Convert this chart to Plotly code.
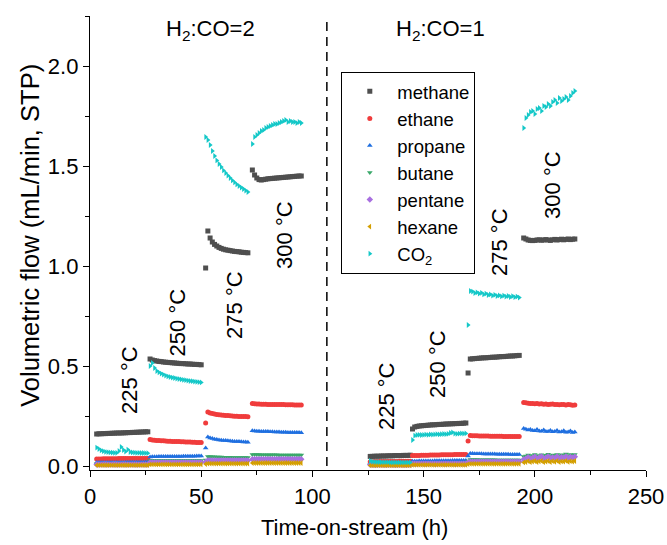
import plotly.graph_objects as go

# Time-on-stream (h); runs: H2:CO=2 at 225/250/275/300 °C, then H2:CO=1 at 225/250/275/300 °C
t = [
    3, 4, 5, 6, 7, 8, 9, 10, 11, 12, 13, 14, 15, 16, 17, 18, 19, 20, 21, 22, 23, 24, 25, 26,
    27, 28, 29, 30, 31, 32, 33, 34, 35, 36, 37, 38, 39, 40, 41, 42, 43, 44, 45, 46, 47, 48, 49, 50,
    52, 53, 54, 55, 56, 57, 58, 59, 60, 61, 62, 63, 64, 65, 66, 67, 68, 69, 70, 71,
    73, 74, 75, 76, 77, 78, 79, 80, 81, 82, 83, 84, 85, 86, 87, 88, 89, 90, 91, 92, 93, 94, 95,
    126, 127, 128, 129, 130, 131, 132, 133, 134, 135, 136, 137, 138, 139, 140, 141, 142, 143, 144,
    145, 146, 147, 148, 149, 150, 151, 152, 153, 154, 155, 156, 157, 158, 159, 160, 161, 162, 163, 164, 165, 166, 167, 168, 169,
    170, 171, 172, 173, 174, 175, 176, 177, 178, 179, 180, 181, 182, 183, 184, 185, 186, 187, 188, 189, 190, 191, 192, 193,
    195, 196, 197, 198, 199, 200, 201, 202, 203, 204, 205, 206, 207, 208, 209, 210, 211, 212, 213, 214, 215, 216, 217, 218,
]

# Volumetric flows (mL/min, STP)
methane = [
    0.160, 0.161, 0.161, 0.162, 0.162, 0.163, 0.163, 0.164, 0.164, 0.165, 0.165, 0.165, 0.166, 0.166, 0.167, 0.167, 0.168, 0.168, 0.169, 0.169, 0.170, 0.170, 0.171, 0.171,
    0.535, 0.530, 0.527, 0.525, 0.523, 0.522, 0.520, 0.519, 0.518, 0.517, 0.516, 0.515, 0.514, 0.513, 0.512, 0.512, 0.511, 0.510, 0.510, 0.509, 0.508, 0.508, 0.507, 0.506,
    0.990, 1.175, 1.140, 1.120, 1.108, 1.100, 1.093, 1.088, 1.084, 1.081, 1.079, 1.077, 1.075, 1.073, 1.072, 1.071, 1.069, 1.068, 1.067, 1.066,
    1.480, 1.455, 1.440, 1.432, 1.430, 1.432, 1.434, 1.436, 1.437, 1.438, 1.439, 1.440, 1.441, 1.442, 1.443, 1.444, 1.445, 1.446, 1.447, 1.448, 1.449, 1.450, 1.450,
    0.048, 0.048, 0.049, 0.049, 0.049, 0.050, 0.050, 0.050, 0.051, 0.051, 0.051, 0.052, 0.052, 0.052, 0.052, 0.053, 0.053, 0.053, 0.054,
    0.185, 0.195, 0.198, 0.200, 0.201, 0.202, 0.203, 0.204, 0.205, 0.206, 0.206, 0.207, 0.208, 0.208, 0.209, 0.210, 0.210, 0.211, 0.211, 0.212, 0.212, 0.213, 0.213, 0.214, 0.215,
    0.465, 0.535, 0.536, 0.537, 0.538, 0.539, 0.540, 0.541, 0.541, 0.542, 0.543, 0.544, 0.544, 0.545, 0.546, 0.547, 0.547, 0.548, 0.549, 0.550, 0.550, 0.551, 0.552, 0.553,
    1.140, 1.135, 1.130, 1.128, 1.127, 1.128, 1.130, 1.131, 1.129, 1.130, 1.132, 1.130, 1.128, 1.131, 1.133, 1.130, 1.132, 1.134, 1.131, 1.133, 1.135, 1.132, 1.134, 1.135,
]

ethane = [
    0.035, 0.035, 0.035, 0.036, 0.036, 0.036, 0.036, 0.036, 0.036, 0.036, 0.037, 0.037, 0.037, 0.037, 0.037, 0.037, 0.037, 0.037, 0.038, 0.038, 0.038, 0.038, 0.038, 0.038,
    0.132, 0.130, 0.129, 0.128, 0.127, 0.126, 0.126, 0.125, 0.124, 0.124, 0.123, 0.123, 0.122, 0.122, 0.121, 0.121, 0.120, 0.120, 0.120, 0.119, 0.119, 0.118, 0.118, 0.118,
    0.215, 0.270, 0.265, 0.262, 0.260, 0.258, 0.256, 0.255, 0.254, 0.253, 0.252, 0.251, 0.250, 0.249, 0.249, 0.248, 0.248, 0.247, 0.247, 0.246,
    0.312, 0.311, 0.310, 0.310, 0.309, 0.309, 0.309, 0.308, 0.308, 0.308, 0.308, 0.307, 0.307, 0.307, 0.307, 0.306, 0.306, 0.306, 0.306, 0.305, 0.305, 0.305, 0.305,
    0.021, 0.021, 0.022, 0.022, 0.022, 0.022, 0.022, 0.023, 0.023, 0.023, 0.023, 0.023, 0.023, 0.024, 0.024, 0.024, 0.024, 0.024, 0.024,
    0.052, 0.053, 0.053, 0.053, 0.054, 0.054, 0.054, 0.054, 0.055, 0.055, 0.055, 0.055, 0.055, 0.056, 0.056, 0.056, 0.056, 0.056, 0.056, 0.057, 0.057, 0.057, 0.057, 0.057, 0.057,
    0.125, 0.152, 0.151, 0.151, 0.151, 0.150, 0.150, 0.150, 0.150, 0.150, 0.149, 0.149, 0.149, 0.149, 0.149, 0.149, 0.148, 0.148, 0.148, 0.148, 0.148, 0.148, 0.148, 0.147,
    0.318, 0.316, 0.314, 0.313, 0.312, 0.311, 0.312, 0.310, 0.311, 0.309, 0.310, 0.308, 0.309, 0.310, 0.307, 0.308, 0.306, 0.308, 0.307, 0.305, 0.307, 0.306, 0.304, 0.305,
]

propane = [
    0.017, 0.017, 0.017, 0.017, 0.018, 0.018, 0.018, 0.018, 0.018, 0.018, 0.018, 0.018, 0.018, 0.019, 0.019, 0.019, 0.019, 0.019, 0.019, 0.019, 0.019, 0.019, 0.020, 0.020,
    0.045, 0.046, 0.046, 0.046, 0.047, 0.047, 0.047, 0.047, 0.047, 0.048, 0.048, 0.048, 0.048, 0.048, 0.048, 0.049, 0.049, 0.049, 0.049, 0.049, 0.049, 0.050, 0.050, 0.050,
    0.090, 0.145, 0.140, 0.137, 0.134, 0.132, 0.130, 0.129, 0.128, 0.127, 0.126, 0.125, 0.124, 0.123, 0.122, 0.122, 0.121, 0.120, 0.120, 0.119,
    0.176, 0.175, 0.174, 0.174, 0.173, 0.173, 0.172, 0.172, 0.171, 0.171, 0.170, 0.170, 0.170, 0.169, 0.169, 0.169, 0.168, 0.168, 0.168, 0.167, 0.167, 0.167, 0.166,
    0.011, 0.011, 0.011, 0.012, 0.012, 0.012, 0.012, 0.012, 0.012, 0.012, 0.012, 0.013, 0.013, 0.013, 0.013, 0.013, 0.013, 0.013, 0.013,
    0.024, 0.024, 0.024, 0.025, 0.025, 0.025, 0.025, 0.025, 0.025, 0.025, 0.026, 0.026, 0.026, 0.026, 0.026, 0.026, 0.026, 0.026, 0.027, 0.027, 0.027, 0.027, 0.027, 0.027, 0.027,
    0.050, 0.062, 0.062, 0.061, 0.061, 0.061, 0.061, 0.060, 0.060, 0.060, 0.060, 0.060, 0.060, 0.059, 0.059, 0.059, 0.059, 0.059, 0.059, 0.058, 0.058, 0.058, 0.058, 0.058,
    0.188, 0.184, 0.180, 0.182, 0.178, 0.176, 0.182, 0.175, 0.174, 0.180, 0.173, 0.172, 0.178, 0.171, 0.172, 0.177, 0.170, 0.171, 0.176, 0.169, 0.170, 0.175, 0.168, 0.170,
]

butane = [
    0.011, 0.011, 0.011, 0.011, 0.011, 0.011, 0.011, 0.011, 0.011, 0.011, 0.011, 0.011, 0.012, 0.012, 0.012, 0.012, 0.012, 0.012, 0.012, 0.012, 0.012, 0.012, 0.012, 0.012,
    0.027, 0.027, 0.027, 0.027, 0.027, 0.027, 0.027, 0.027, 0.027, 0.027, 0.027, 0.027, 0.028, 0.028, 0.028, 0.028, 0.028, 0.028, 0.028, 0.028, 0.028, 0.028, 0.028, 0.028,
    0.030, 0.048, 0.047, 0.046, 0.046, 0.045, 0.045, 0.045, 0.044, 0.044, 0.044, 0.044, 0.043, 0.043, 0.043, 0.043, 0.043, 0.042, 0.042, 0.042,
    0.057, 0.057, 0.057, 0.057, 0.056, 0.056, 0.056, 0.056, 0.056, 0.056, 0.056, 0.056, 0.055, 0.055, 0.055, 0.055, 0.055, 0.055, 0.055, 0.055, 0.055, 0.055, 0.055,
    0.008, 0.008, 0.008, 0.008, 0.008, 0.008, 0.008, 0.008, 0.008, 0.008, 0.008, 0.008, 0.008, 0.008, 0.008, 0.008, 0.008, 0.008, 0.008,
    0.015, 0.015, 0.015, 0.015, 0.015, 0.015, 0.015, 0.015, 0.015, 0.015, 0.015, 0.015, 0.015, 0.015, 0.015, 0.015, 0.015, 0.015, 0.015, 0.015, 0.015, 0.015, 0.015, 0.015, 0.015,
    0.025, 0.032, 0.032, 0.032, 0.032, 0.031, 0.031, 0.031, 0.031, 0.031, 0.031, 0.031, 0.031, 0.030, 0.030, 0.030, 0.030, 0.030, 0.030, 0.030, 0.030, 0.030, 0.030, 0.030,
    0.048, 0.050, 0.055, 0.047, 0.052, 0.058, 0.049, 0.053, 0.056, 0.048, 0.054, 0.059, 0.050, 0.055, 0.052, 0.058, 0.050, 0.056, 0.053, 0.060, 0.051, 0.057, 0.054, 0.058,
]

pentane = [
    0.007, 0.007, 0.007, 0.007, 0.007, 0.007, 0.007, 0.007, 0.007, 0.007, 0.007, 0.007, 0.007, 0.007, 0.007, 0.007, 0.007, 0.007, 0.007, 0.007, 0.007, 0.007, 0.007, 0.007,
    0.017, 0.017, 0.017, 0.017, 0.017, 0.017, 0.017, 0.017, 0.017, 0.017, 0.017, 0.017, 0.017, 0.017, 0.017, 0.017, 0.017, 0.017, 0.017, 0.017, 0.017, 0.017, 0.017, 0.017,
    0.020, 0.027, 0.027, 0.027, 0.027, 0.027, 0.027, 0.027, 0.027, 0.027, 0.027, 0.027, 0.027, 0.027, 0.027, 0.027, 0.027, 0.027, 0.027, 0.027,
    0.034, 0.034, 0.034, 0.034, 0.034, 0.034, 0.034, 0.034, 0.034, 0.034, 0.034, 0.034, 0.034, 0.034, 0.034, 0.034, 0.034, 0.034, 0.034, 0.034, 0.034, 0.034, 0.034,
    0.006, 0.006, 0.006, 0.006, 0.006, 0.006, 0.006, 0.006, 0.006, 0.006, 0.006, 0.006, 0.006, 0.006, 0.006, 0.006, 0.006, 0.006, 0.006,
    0.011, 0.011, 0.011, 0.011, 0.011, 0.011, 0.011, 0.011, 0.011, 0.011, 0.011, 0.011, 0.011, 0.011, 0.011, 0.011, 0.011, 0.011, 0.011, 0.011, 0.011, 0.011, 0.011, 0.011, 0.011,
    0.018, 0.021, 0.021, 0.021, 0.021, 0.021, 0.021, 0.021, 0.021, 0.021, 0.021, 0.021, 0.021, 0.021, 0.021, 0.021, 0.021, 0.021, 0.021, 0.021, 0.021, 0.021, 0.021, 0.021,
    0.032, 0.036, 0.044, 0.034, 0.040, 0.046, 0.035, 0.042, 0.047, 0.036, 0.041, 0.048, 0.037, 0.043, 0.039, 0.047, 0.036, 0.044, 0.040, 0.048, 0.038, 0.045, 0.041, 0.046,
]

hexane = [
    0.004, 0.004, 0.004, 0.004, 0.004, 0.004, 0.004, 0.004, 0.004, 0.004, 0.004, 0.004, 0.004, 0.004, 0.004, 0.004, 0.004, 0.004, 0.004, 0.004, 0.004, 0.004, 0.004, 0.004,
    0.008, 0.008, 0.008, 0.008, 0.008, 0.008, 0.008, 0.008, 0.008, 0.008, 0.008, 0.008, 0.008, 0.008, 0.008, 0.008, 0.008, 0.008, 0.008, 0.008, 0.008, 0.008, 0.008, 0.008,
    0.010, 0.012, 0.012, 0.012, 0.012, 0.012, 0.012, 0.012, 0.012, 0.012, 0.012, 0.012, 0.012, 0.012, 0.012, 0.012, 0.012, 0.012, 0.012, 0.012,
    0.015, 0.015, 0.015, 0.015, 0.015, 0.015, 0.015, 0.015, 0.015, 0.015, 0.015, 0.015, 0.015, 0.015, 0.015, 0.015, 0.015, 0.015, 0.015, 0.015, 0.015, 0.015, 0.015,
    0.003, 0.003, 0.003, 0.003, 0.003, 0.003, 0.003, 0.003, 0.003, 0.003, 0.003, 0.003, 0.003, 0.003, 0.003, 0.003, 0.003, 0.003, 0.003,
    0.006, 0.006, 0.006, 0.006, 0.006, 0.006, 0.006, 0.006, 0.006, 0.006, 0.006, 0.006, 0.006, 0.006, 0.006, 0.006, 0.006, 0.006, 0.006, 0.006, 0.006, 0.006, 0.006, 0.006, 0.006,
    0.009, 0.011, 0.011, 0.011, 0.011, 0.011, 0.011, 0.011, 0.011, 0.011, 0.011, 0.011, 0.011, 0.011, 0.011, 0.011, 0.011, 0.011, 0.011, 0.011, 0.011, 0.011, 0.011, 0.011,
    0.018, 0.020, 0.024, 0.019, 0.022, 0.025, 0.020, 0.023, 0.026, 0.019, 0.022, 0.025, 0.020, 0.024, 0.021, 0.026, 0.020, 0.023, 0.022, 0.026, 0.021, 0.024, 0.022, 0.025,
]

co2 = [
    0.092, 0.085, 0.078, 0.074, 0.071, 0.069, 0.068, 0.067, 0.066, 0.066, 0.075, 0.095, 0.080, 0.072, 0.082, 0.070, 0.068, 0.067, 0.066, 0.066, 0.065, 0.065, 0.064, 0.064,
    0.500, 0.515, 0.490, 0.475, 0.468, 0.462, 0.457, 0.452, 0.448, 0.445, 0.442, 0.440, 0.437, 0.435, 0.433, 0.431, 0.429, 0.427, 0.425, 0.424, 0.422, 0.421, 0.419, 0.418,
    1.645, 1.630, 1.605, 1.575, 1.550, 1.528, 1.510, 1.495, 1.478, 1.465, 1.452, 1.440, 1.428, 1.418, 1.408, 1.400, 1.392, 1.385, 1.377, 1.370,
    1.610, 1.645, 1.655, 1.665, 1.675, 1.680, 1.690, 1.695, 1.700, 1.705, 1.710, 1.710, 1.715, 1.720, 1.725, 1.730, 1.720, 1.725, 1.720, 1.720, 1.715, 1.720, 1.715,
    0.025, 0.022, 0.021, 0.020, 0.020, 0.019, 0.019, 0.019, 0.019, 0.018, 0.018, 0.018, 0.018, 0.018, 0.018, 0.018, 0.018, 0.018, 0.018,
    0.130, 0.152, 0.155, 0.156, 0.155, 0.156, 0.157, 0.156, 0.158, 0.157, 0.158, 0.159, 0.158, 0.159, 0.160, 0.159, 0.161, 0.165, 0.168, 0.162, 0.161, 0.162, 0.163, 0.162, 0.163,
    0.705, 0.875, 0.872, 0.865, 0.868, 0.862, 0.866, 0.858, 0.862, 0.855, 0.858, 0.852, 0.856, 0.850, 0.853, 0.848, 0.852, 0.847, 0.850, 0.845, 0.849, 0.844, 0.847, 0.842,
    1.690, 1.740, 1.755, 1.770, 1.775, 1.760, 1.785, 1.790, 1.775, 1.800, 1.795, 1.810, 1.800, 1.820, 1.830, 1.815, 1.840, 1.825, 1.835, 1.845, 1.830, 1.850, 1.865, 1.875,
]

# Annotation positions (h, mL/min)
temps_h2co2 = [("225 °C", 17.5, 0.43), ("250 °C", 39.3, 0.72), ("275 °C", 64.7, 0.805), ("300 °C", 87.2, 1.155)]
temps_h2co1 = [("225 °C", 133.1, 0.35), ("250 °C", 156.0, 0.51), ("275 °C", 183.9, 1.12), ("300 °C", 207.7, 1.405)]
ratio_labels = [("H<sub>2</sub>:CO=2", 54.3, 2.18), ("H<sub>2</sub>:CO=1", 157.5, 2.18)]
switch_time = 106.5

FONT = "Liberation Sans, Arial, sans-serif"

series = [
    ("methane", methane, "#4f4f4f", "square"),
    ("ethane", ethane, "#f03c3c", "circle"),
    ("propane", propane, "#1f6fe0", "triangle-up"),
    ("butane", butane, "#3aa86a", "triangle-down"),
    ("pentane", pentane, "#a86fe0", "diamond"),
    ("hexane", hexane, "#d49f00", "triangle-left"),
    ("CO<sub>2</sub>", co2, "#14c8c8", "triangle-right"),
]

fig = go.Figure()
for name, vals, color, symbol in series:
    fig.add_trace(go.Scatter(
        x=t, y=vals, mode="markers", name=name,
        marker=dict(color=color, symbol=symbol, size=5, line=dict(width=0)),
    ))

annotations = []
for text, x, y in temps_h2co2 + temps_h2co1:
    annotations.append(dict(x=x, y=y, text=text, textangle=-90, showarrow=False,
                            font=dict(family=FONT, size=22, color="black")))
for text, x, y in ratio_labels:
    annotations.append(dict(x=x, y=y, text=text, showarrow=False,
                            font=dict(family=FONT, size=22, color="black")))

# Axis titles, placed in paper coordinates
annotations.append(dict(xref="paper", yref="paper", x=0.475, y=-0.126, text="Time-on-stream (h)",
                        showarrow=False, xanchor="center", yanchor="middle",
                        font=dict(family=FONT, size=22, color="black")))
annotations.append(dict(xref="paper", yref="paper", x=-0.108, y=0.518, text="Volumetric flow (mL/min, STP)",
                        textangle=-90, showarrow=False, xanchor="center", yanchor="middle",
                        font=dict(family=FONT, size=25.5, color="black")))

fig.add_shape(type="line", x0=switch_time, x1=switch_time, y0=0, y1=2.22,
              line=dict(color="black", width=1.5, dash="9px,6px"))

axis_common = dict(
    showline=True, linecolor="black", linewidth=1.3, mirror=False,
    ticks="outside", ticklen=6, tickwidth=1.3, tickcolor="black",
    showgrid=False, zeroline=False, automargin=False,
    tickfont=dict(family=FONT, size=22, color="black"),
)

fig.update_layout(
    width=667, height=545,
    margin=dict(l=90, r=21, t=16, b=75),
    paper_bgcolor="white", plot_bgcolor="white",
    font=dict(family=FONT, color="black"),
    showlegend=True,
    legend=dict(x=0.452, y=0.877, xanchor="left", yanchor="top",
                bordercolor="black", borderwidth=1, bgcolor="white",
                itemwidth=45,
                font=dict(family=FONT, size=18.5, color="black")),
    xaxis=dict(range=[0, 250], tickvals=[0, 50, 100, 150, 200, 250],
               minor=dict(ticks="outside", ticklen=4, tickwidth=1.3, tickcolor="black", dtick=25, tick0=0),
               **axis_common),
    yaxis=dict(range=[-0.02, 2.25], tickvals=[0, 0.5, 1.0, 1.5, 2.0], tickformat=".1f",
               minor=dict(ticks="outside", ticklen=4, tickwidth=1.3, tickcolor="black", dtick=0.25, tick0=0),
               **axis_common),
    annotations=annotations,
)

fig.write_html("out.html")
